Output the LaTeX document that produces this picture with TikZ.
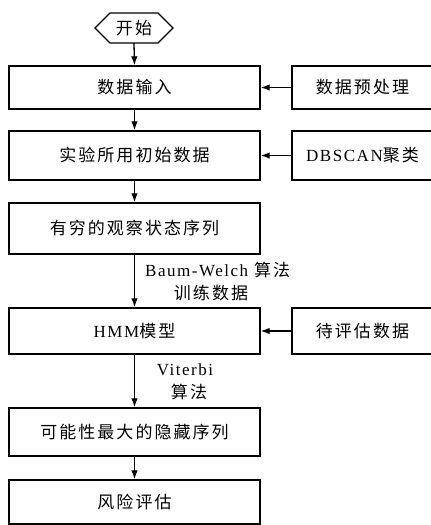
\documentclass[tikz,border=0pt]{standalone}
\usepackage{fontspec}
\setmainfont{Noto Sans CJK SC}[LetterSpace=12]
\newfontfamily\lat{Liberation Serif}[LetterSpace=9]
\usetikzlibrary{arrows.meta}
\begin{document}
\begin{tikzpicture}[x=1pt,y=-1pt,
  box/.style={draw,line width=1.4pt,minimum width=251pt,inner sep=0pt,font=\fontsize{17}{19}\selectfont},
  rbox/.style={draw,line width=1.4pt,minimum width=141pt,minimum height=46pt,inner sep=0pt,font=\fontsize{17}{19}\selectfont},
  arr/.style={line width=1.3pt,-{Latex[length=9pt,width=6.5pt]}},
  lbl/.style={inner sep=0pt,font=\fontsize{17}{19}\selectfont}]
\useasboundingbox (0,0) rectangle (431,525);
% start hexagon
\draw[line width=1.3pt] (95,28) -- (110,13) -- (158,13) -- (173,28) -- (158,43) -- (110,43) -- cycle;
\node[minimum width=78pt,minimum height=30pt,inner sep=0pt,font=\fontsize{17}{19}\selectfont] (start) at (134,28) {开始};
% left boxes
\node[box,minimum height=43pt] (b1) at (134.5,87.5) {数据输入};
\node[box,minimum height=49pt] (b2) at (134.5,155.5) {实验所用初始数据};
\node[box,minimum height=51pt] (b3) at (134.5,228.5) {有穷的观察状态序列};
\node[box,minimum height=46pt] (b4) at (134.5,331) {{\lat HMM}模型};
\node[box,minimum height=48pt] (b5) at (134.5,432) {可能性最大的隐藏序列};
\node[box,minimum height=44pt] (b6) at (134.5,502) {风险评估};
% right boxes
\node[rbox,minimum height=43pt] (r1) at (362.5,87.5) {数据预处理};
\node[rbox,minimum height=49pt] (r2) at (362.5,155.5) {{\lat DBSCAN}聚类};
\node[rbox,minimum height=46pt] (r3) at (362.5,331) {待评估数据};
% connectors
\draw[arr] (start.south) -- (b1.north);
\draw[arr] (b1) -- (b2);
\draw[arr] (b2) -- (b3);
\draw[arr] (b3) -- (b4);
\draw[arr] (b4) -- (b5);
\draw[arr] (b5) -- (b6);
\draw[arr] (r1) -- (b1);
\draw[arr] (r2) -- (b2);
\draw[arr] (r3) -- (b4);
% labels
\node[lbl,anchor=west] (l1) at (145,270) {{\lat Baum-Welch} 算法};
\node[lbl] (l2) at (211,293) {训练数据};
\node[lbl] (l3) at (185,370) {\lat Viterbi};
\node[lbl] (l4) at (189,392) {算法};
\end{tikzpicture}
\end{document}
